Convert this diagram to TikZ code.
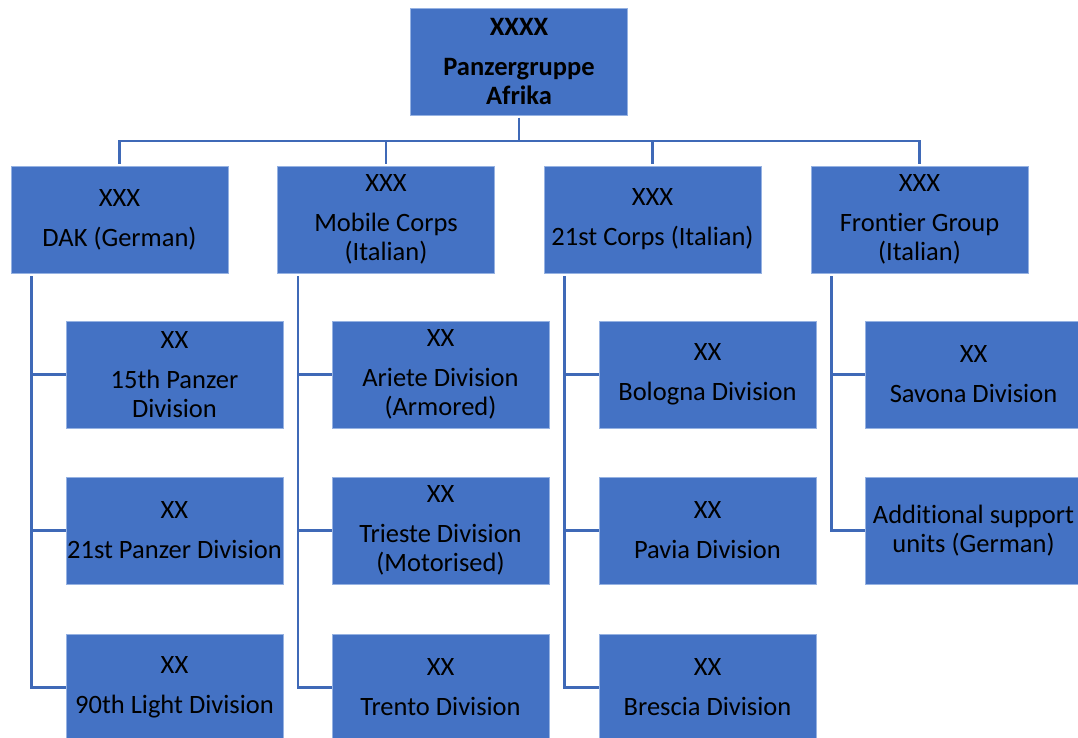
\documentclass[tikz,border=0pt]{standalone}
\usepackage{fontspec}
\setmainfont[Ligatures={NoCommon,NoContextual,NoRequired}]{Carlito}
\usetikzlibrary{calc}
\definecolor{boxblue}{RGB}{68,114,196}
\definecolor{boxedge}{RGB}{150,178,226}
\definecolor{linkblue}{RGB}{63,105,183}
\begin{document}
\begin{tikzpicture}[x=1pt,y=-1pt,
  unit/.style={fill=boxblue,draw=boxedge,line width=0.8pt,minimum width=217pt,
    minimum height=107pt,inner sep=0pt,align=center,text=black,
    font=\fontsize{26.5}{29}\selectfont},
  conn/.style={draw=linkblue,line width=2.6pt}]
\useasboundingbox (0,0) rectangle (1078,738);
\clip (0,0) rectangle (1078,738);

% army level
\node[unit,font=\fontsize{26.5}{29}\selectfont\bfseries] (pga) at (519,62) {XXXX\\[11pt]Panzergruppe\\Afrika};

% corps level
\node[unit] (dak) at (119.5,219.5) {XXX\\[11pt]DAK (German)};
\node[unit] (mob) at (386,219.5) {XXX\\[11pt]Mobile Corps\\(Italian)};
\node[unit] (c21) at (652.5,219.5) {XXX\\[11pt]21st Corps (Italian)};
\node[unit] (fro) at (919.5,219.5) {XXX\\[11pt]Frontier Group\\(Italian)};

% divisions
\node[unit] (p15) at (174.5,374.5) {XX\\[11pt]15th Panzer\\Division};
\node[unit] (p21) at (174.5,530.5) {XX\\[11pt]21st Panzer Division};
\node[unit] (l90) at (174.5,687.5) {XX\\[11pt]90th Light Division};

\node[unit] (ari) at (440.5,374.5) {XX\\[11pt]Ariete Division\\(Armored)};
\node[unit] (tri) at (440.5,530.5) {XX\\[11pt]Trieste Division\\(Motorised)};
\node[unit] (tre) at (440.5,687.5) {XX\\[11pt]Trento Division};

\node[unit] (bol) at (707.5,374.5) {XX\\[11pt]Bologna Division};
\node[unit] (pav) at (707.5,530.5) {XX\\[11pt]Pavia Division};
\node[unit] (bre) at (707.5,687.5) {XX\\[11pt]Brescia Division};

\node[unit] (sav) at (973.5,374.5) {XX\\[11pt]Savona Division};
\node[unit] (sup) at (973.5,530.5) {Additional support\\units (German)};

% army to corps
\foreach \c in {dak,mob,c21,fro}
  \draw[conn] ($(pga.south)+(0,2)$) -- ++(0,23) -| ($(\c.north)+(0,-2)$);

% corps to divisions
\foreach \p/\c in {dak/p15,dak/p21,dak/l90,mob/ari,mob/tri,mob/tre,
                   c21/bol,c21/pav,c21/bre,fro/sav,fro/sup}
  \draw[conn] ($(\p.south west)+(21,3)$) |- (\c.west);
\end{tikzpicture}
\end{document}
